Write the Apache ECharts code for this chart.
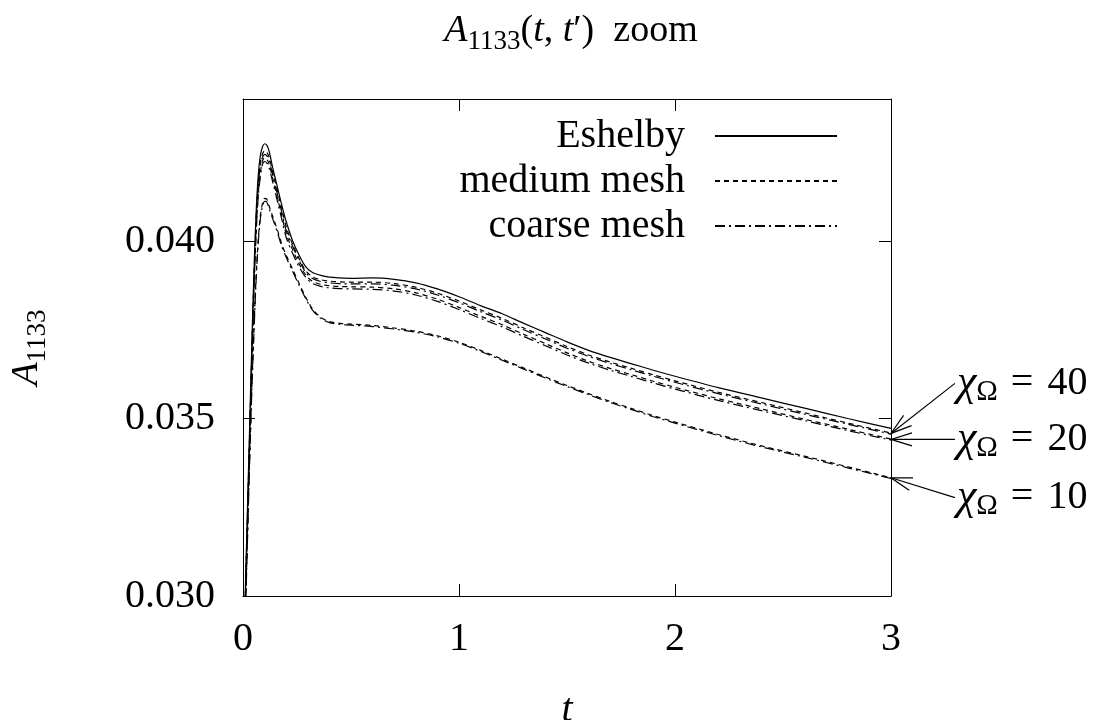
<!DOCTYPE html>
<html>
<head>
<meta charset="utf-8">
<script src="https://cdn.jsdelivr.net/npm/echarts@6/dist/echarts.min.js"></script>
<style>
  html, body { margin: 0; padding: 0; background: #fff; }
  #chart { width: 1106px; height: 720px; }
</style>
</head>
<body>
<div id="chart"></div>
<script>
// time samples shared by every curve
const tValues = [0, 0.01, 0.02, 0.03, 0.04, 0.05, 0.06, 0.07, 0.08, 0.09,
  0.10, 0.11, 0.12, 0.14, 0.16, 0.18, 0.20, 0.23, 0.26, 0.29,
  0.32, 0.36, 0.40, 0.45, 0.50, 0.60, 0.70, 0.80, 0.90, 1.0,
  1.1, 1.2, 1.3, 1.4, 1.5, 1.6, 1.7, 1.8, 1.9, 2.0,
  2.2, 2.4, 2.6, 2.8, 3.0];

const eshelby = [0.0275, 0.0300, 0.0323, 0.0346, 0.0369, 0.0390, 0.0407, 0.0418, 0.0424, 0.04265,
  0.04274, 0.0427, 0.04255, 0.0420, 0.0415, 0.0410, 0.04055, 0.0400, 0.0396, 0.03928,
  0.03912, 0.03903, 0.03898, 0.03896, 0.03895, 0.03896, 0.03892, 0.03882, 0.03865, 0.03843,
  0.03818, 0.03795, 0.03768, 0.03742, 0.03716, 0.03692, 0.03672, 0.03654, 0.03636, 0.03619,
  0.03587, 0.03558, 0.03529, 0.03500, 0.03472];

const medium40 = [0.0272, 0.0298, 0.0321, 0.0344, 0.0367, 0.0388, 0.0405, 0.0416, 0.0422, 0.04245,
  0.04254, 0.0425, 0.04237, 0.0419, 0.0414, 0.0409, 0.0404, 0.0399, 0.0395, 0.03917,
  0.03900, 0.03891, 0.03887, 0.03885, 0.03884, 0.03884, 0.03880, 0.03870, 0.03853, 0.03831,
  0.03806, 0.03782, 0.03755, 0.03729, 0.03703, 0.03679, 0.03659, 0.03641, 0.03623, 0.03606,
  0.03574, 0.03545, 0.03516, 0.03487, 0.03459];

const coarse40 = [0.0271, 0.0297, 0.0320, 0.0343, 0.0366, 0.0387, 0.0404, 0.0415, 0.0421, 0.04235,
  0.04244, 0.0424, 0.04228, 0.0418, 0.0413, 0.0408, 0.0403, 0.03985, 0.03945, 0.03912,
  0.03895, 0.03886, 0.03882, 0.03880, 0.03879, 0.03879, 0.03875, 0.03865, 0.03848, 0.03826,
  0.03801, 0.03777, 0.03750, 0.03724, 0.03698, 0.03675, 0.03655, 0.03637, 0.03619, 0.03602,
  0.03570, 0.03541, 0.03512, 0.03484, 0.03456];

const medium20 = [0.0270, 0.0296, 0.0319, 0.0342, 0.0364, 0.0385, 0.0402, 0.0413, 0.0419, 0.04225,
  0.04234, 0.0423, 0.04218, 0.0417, 0.0412, 0.0407, 0.0402, 0.03975, 0.03935, 0.03905,
  0.03887, 0.03878, 0.03874, 0.03872, 0.03871, 0.03870, 0.03865, 0.03854, 0.03836, 0.03813,
  0.03788, 0.03764, 0.03737, 0.03711, 0.03685, 0.03661, 0.03641, 0.03623, 0.03605, 0.03588,
  0.03556, 0.03527, 0.03498, 0.03470, 0.03442];

const coarse20 = [0.0269, 0.0295, 0.0318, 0.0341, 0.0363, 0.0384, 0.0401, 0.0412, 0.0418, 0.04215,
  0.04224, 0.0422, 0.04208, 0.0416, 0.0411, 0.0406, 0.0401, 0.03965, 0.03927, 0.03898,
  0.03881, 0.03872, 0.03868, 0.03866, 0.03865, 0.03864, 0.03859, 0.03848, 0.03830, 0.03807,
  0.03782, 0.03758, 0.03731, 0.03705, 0.03679, 0.03656, 0.03636, 0.03618, 0.03600, 0.03583,
  0.03551, 0.03522, 0.03494, 0.03466, 0.03439];

const medium10 = [0.0265, 0.0292, 0.0315, 0.0337, 0.0357, 0.0374, 0.0389, 0.0400, 0.0407, 0.04105,
  0.0412, 0.04118, 0.0410, 0.04065, 0.0403, 0.0399, 0.0396, 0.0392, 0.0388, 0.03842,
  0.0381, 0.03785, 0.03773, 0.03768, 0.03766, 0.03762, 0.03755, 0.03746, 0.03733, 0.03715,
  0.03692, 0.03667, 0.03642, 0.03617, 0.03593, 0.03570, 0.03548, 0.03528, 0.03508, 0.03490,
  0.03455, 0.03423, 0.03394, 0.03364, 0.03333];

const coarse10 = [0.0264, 0.0291, 0.0314, 0.0336, 0.0356, 0.0373, 0.0388, 0.0399, 0.0406, 0.04097,
  0.04112, 0.0411, 0.04093, 0.04058, 0.04023, 0.03984, 0.03954, 0.03914, 0.03875, 0.03838,
  0.03807, 0.03782, 0.03770, 0.03765, 0.03763, 0.03759, 0.03752, 0.03743, 0.03730, 0.03712,
  0.03689, 0.03664, 0.03639, 0.03614, 0.03590, 0.03567, 0.03545, 0.03525, 0.03505, 0.03487,
  0.03452, 0.03420, 0.03391, 0.03361, 0.03331];

const legendNames = ['Eshelby', 'medium mesh', 'coarse mesh'];
const xTicks = [0, 1, 2, 3];
const xTickLabels = ['0', '1', '2', '3'];
const yTicks = [0.030, 0.035, 0.040];
const yTickLabels = ['0.030', '0.035', '0.040'];

// chi_Omega annotations: label, value where the arrow ends at t = 3, value where the text sits
const annotLabels = ['40', '20', '10'];
const annotTipValues = [0.03458, 0.03441, 0.03333];
const annotTextValues = [0.03599, 0.03441, 0.03277];
const annotTextT = 3.296;

const FONT = '"Liberation Serif", "DejaVu Serif", serif';
const dashMedium = [5, 4];
const dashCoarse = [10, 4, 2, 4];

let chart;

function pairs(values) {
  return tValues.map((t, i) => [t, values[i]]);
}

function makeSeries(name, values, dash) {
  return {
    name: name,
    type: 'line',
    data: pairs(values),
    showSymbol: false,
    symbol: 'none',
    smooth: 0.3,
    animation: false,
    silent: true,
    lineStyle: { color: '#000', width: 1.2, type: dash },
    itemStyle: { color: '#000' }
  };
}

function tickLabel(ticks, labels) {
  return function (v) {
    for (let k = 0; k < ticks.length; k++) {
      if (Math.abs(v - ticks[k]) < 1e-9) return labels[k];
    }
    return '';
  };
}

function render() {
  chart = echarts.init(document.getElementById('chart'), null, { renderer: 'canvas' });

  const axisLine = { show: true, onZero: false, lineStyle: { color: '#000', width: 1 } };
  const axisTick = { show: true, inside: true, length: 12, lineStyle: { color: '#000', width: 1 } };
  const txt = (size, italic) => ({
    fontFamily: FONT, fontSize: size, fontWeight: 'normal',
    fontStyle: italic ? 'italic' : 'normal', color: '#000'
  });

  const option = {
    backgroundColor: '#fff',
    animation: false,
    textStyle: { fontFamily: FONT },
    title: {
      text: '{i|A}{s|1133}{n|(}{i|t}{n|, }{i|t}{n|′)  zoom}',
      left: 566,
      top: 3,
      textAlign: 'center',
      textStyle: {
        fontWeight: 'normal',
        rich: {
          i: txt(38, true),
          n: txt(38, false),
          s: Object.assign(txt(27, false), { padding: [20, 0, 0, 0] })
        }
      }
    },
    legend: {
      data: legendNames,
      orient: 'vertical',
      align: 'right',
      right: 263,
      top: 111,
      itemWidth: 122,
      itemHeight: 14,
      itemGap: 5,
      selectedMode: false,
      itemStyle: { opacity: 0 },
      textStyle: Object.assign(txt(40, false), { lineHeight: 40, padding: [0, 25, 0, 0] })
    },
    grid: { left: 243, right: 215, top: 99, bottom: 124, containLabel: false, outerBoundsMode: 'none' },
    xAxis: [
      {
        type: 'value', min: 0, max: 3, interval: 1, position: 'bottom',
        name: '{i|t}', nameLocation: 'middle', nameGap: 94,
        nameTextStyle: { rich: { i: txt(40, true) } },
        axisLine: axisLine, axisTick: axisTick, splitLine: { show: false },
        axisLabel: Object.assign(txt(40, false), { margin: 23, formatter: tickLabel(xTicks, xTickLabels) })
      },
      {
        type: 'value', min: 0, max: 3, interval: 1, position: 'top',
        axisLine: axisLine, axisTick: axisTick, splitLine: { show: false }, axisLabel: { show: false }
      }
    ],
    yAxis: [
      {
        type: 'value', min: 0.030, max: 0.044, interval: 0.005, position: 'left',
        name: '{i|A}{s|1133}', nameLocation: 'middle', nameGap: 192, nameRotate: 90,
        nameTextStyle: {
          rich: {
            i: txt(38, true),
            s: Object.assign(txt(27, false), { padding: [20, 0, 0, 0] })
          }
        },
        axisLine: axisLine, axisTick: axisTick, splitLine: { show: false },
        axisLabel: Object.assign(txt(40, false), { margin: 28, formatter: tickLabel(yTicks, yTickLabels) })
      },
      {
        type: 'value', min: 0.030, max: 0.044, interval: 0.005, position: 'right',
        axisLine: axisLine, axisTick: axisTick, splitLine: { show: false }, axisLabel: { show: false }
      }
    ],
    series: [
      makeSeries(legendNames[0], eshelby, 'solid'),
      makeSeries(legendNames[1], medium40, dashMedium),
      makeSeries(legendNames[2], coarse40, dashCoarse),
      makeSeries(legendNames[1], medium20, dashMedium),
      makeSeries(legendNames[2], coarse20, dashCoarse),
      makeSeries(legendNames[1], medium10, dashMedium),
      makeSeries(legendNames[2], coarse10, dashCoarse)
    ]
  };

  chart.setOption(option);
  drawAnnotations();
}

function drawAnnotations() {
  const tMax = tValues[tValues.length - 1];
  const elements = [];
  annotLabels.forEach((lab, i) => {
    const tip = chart.convertToPixel({ gridIndex: 0 }, [tMax, annotTipValues[i]]);
    const start = chart.convertToPixel({ gridIndex: 0 }, [annotTextT, annotTextValues[i]]);
    const dx = start[0] - tip[0];
    const dy = start[1] - tip[1];
    const len = Math.hypot(dx, dy);
    const ux = dx / len, uy = dy / len;
    const head = 22, spread = 0.3;
    const rot = (a) => [tip[0] + head * (ux * Math.cos(a) - uy * Math.sin(a)),
                        tip[1] + head * (ux * Math.sin(a) + uy * Math.cos(a))];
    elements.push({
      type: 'line', silent: true,
      shape: { x1: start[0], y1: start[1], x2: tip[0], y2: tip[1] },
      style: { stroke: '#000', lineWidth: 1.2 }
    });
    elements.push({
      type: 'polyline', silent: true,
      shape: { points: [rot(spread), tip, rot(-spread)] },
      style: { stroke: '#000', fill: null, lineWidth: 1.2 }
    });
    elements.push({
      type: 'text', silent: true,
      x: start[0] + 2, y: start[1],
      style: {
        text: '{i|χ}{s|Ω}{e|=}{n|' + lab + '}',
        textAlign: 'left',
        verticalAlign: 'middle',
        rich: {
          i: { fontFamily: FONT, fontStyle: 'italic', fontSize: 44, fill: '#000' },
          s: { fontFamily: FONT, fontSize: 29, fill: '#000', padding: [18, 0, 0, 0] },
          e: { fontFamily: FONT, fontSize: 40, fill: '#000', padding: [0, 14, 0, 13] },
          n: { fontFamily: FONT, fontSize: 40, fill: '#000' }
        }
      }
    });
  });
  chart.setOption({ graphic: { elements: elements } });
}

document.addEventListener('DOMContentLoaded', render);
</script>
</body>
</html>
